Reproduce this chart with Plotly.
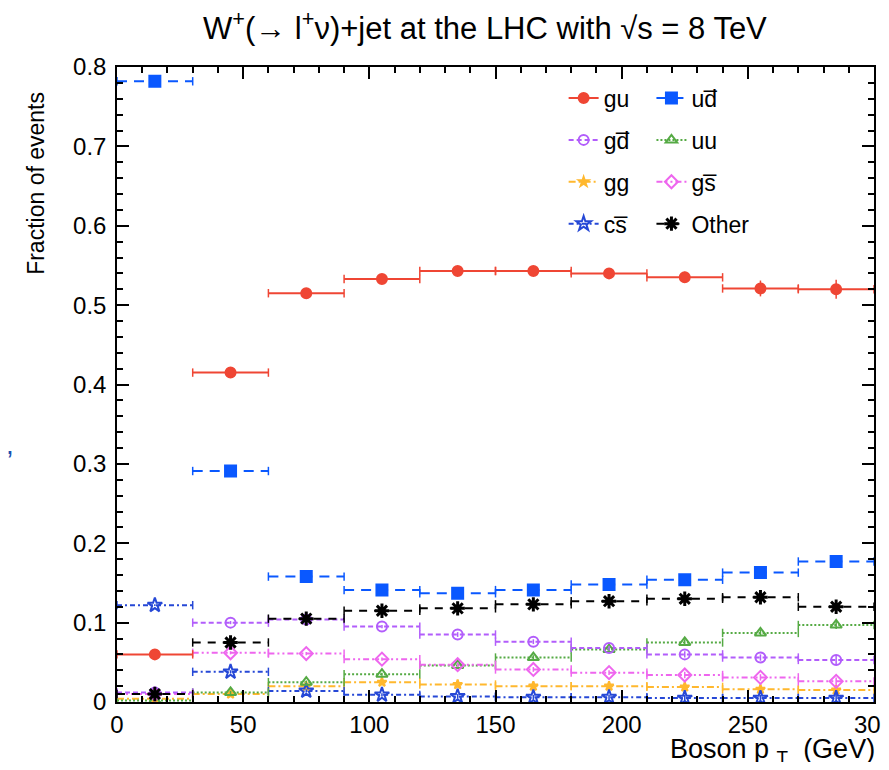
import plotly.graph_objects as go

# ---------------- data ----------------
bin_edges = [0, 30, 60, 90, 120, 150, 180, 210, 240, 270, 300]

series_names = ["gu", "ud\u0305", "gd\u0305", "uu", "gg", "gs\u0305", "cs\u0305", "Other"]

gu    = [0.060, 0.415, 0.515, 0.533, 0.543, 0.543, 0.540, 0.535, 0.521, 0.520]
udbar = [0.782, 0.291, 0.158, 0.141, 0.137, 0.141, 0.148, 0.154, 0.163, 0.177]
gdbar = [0.012, 0.100, 0.104, 0.095, 0.085, 0.076, 0.068, 0.060, 0.056, 0.053]
uu    = [0.002, 0.012, 0.025, 0.035, 0.046, 0.056, 0.066, 0.075, 0.087, 0.097]
gg    = [0.004, 0.010, 0.020, 0.025, 0.022, 0.020, 0.020, 0.019, 0.016, 0.015]
gsbar = [0.010, 0.062, 0.061, 0.054, 0.047, 0.041, 0.037, 0.034, 0.031, 0.026]
csbar = [0.122, 0.038, 0.014, 0.009, 0.007, 0.006, 0.006, 0.005, 0.005, 0.005]
other = [0.010, 0.075, 0.105, 0.115, 0.118, 0.123, 0.127, 0.130, 0.132, 0.120]

err_gu    = [0.002, 0.003, 0.003, 0.004, 0.004, 0.005, 0.006, 0.007, 0.010, 0.012]
err_udbar = [0.003, 0.003, 0.003, 0.003, 0.003, 0.004, 0.004, 0.005, 0.006, 0.008]
err_small = [0.001, 0.002, 0.002, 0.002, 0.003, 0.003, 0.003, 0.004, 0.004, 0.005]

x_ticks = [0, 50, 100, 150, 200, 250, 300]
y_ticks = [0, 0.1, 0.2, 0.3, 0.4, 0.5, 0.6, 0.7, 0.8]
y_ticktext = ["0", "0.1", "0.2", "0.3", "0.4", "0.5", "0.6", "0.7", "0.8"]

# ---------------- styles ----------------
styles = {
    "gu":        dict(color="#ef4634", dash="solid", symbol="circle", size=10, lw=2),
    "ud\u0305":  dict(color="#0a58ff", dash="10px,7px", symbol="square", size=11, lw=2),
    "gd\u0305":  dict(color="#b25dfb", dash="5px,3px", symbol="circle-open", size=10, lw=2),
    "uu":        dict(color="#55aa44", dash="2px,2px", symbol="triangle-up-open", size=10, lw=2),
    "gg":        dict(color="#ffb82e", dash="7px,3px,2px,3px", symbol="star", size=7, lw=2),
    "gs\u0305":  dict(color="#ee66ee", dash="6px,3px,2px,3px,2px,3px", symbol="diamond-open", size=10, lw=2),
    "cs\u0305":  dict(color="#2648d6", dash="5px,3px,2px,3px", symbol="star-open", size=11, lw=2),
    "Other":     dict(color="#000000", dash="8px,7px", symbol="asterisk-open", size=12, lw=2),
}

values = {
    "gu": (gu, err_gu), "ud\u0305": (udbar, err_udbar), "gd\u0305": (gdbar, err_small),
    "uu": (uu, err_small), "gg": (gg, err_small), "gs\u0305": (gsbar, err_small),
    "cs\u0305": (csbar, err_small), "Other": (other, err_small),
}

legend_of = {"gu": "legend", "gd\u0305": "legend", "gg": "legend", "cs\u0305": "legend",
             "ud\u0305": "legend2", "uu": "legend2", "gs\u0305": "legend2", "Other": "legend2"}
ranks = {"gu": 1, "gd\u0305": 2, "gg": 3, "cs\u0305": 4, "ud\u0305": 1, "uu": 2, "gs\u0305": 3, "Other": 4}

centers = [(a + b) / 2 for a, b in zip(bin_edges[:-1], bin_edges[1:])]

fig = go.Figure()

draw_order = ["gg", "cs\u0305", "uu", "gs\u0305", "gd\u0305", "Other", "ud\u0305", "gu"]
for name in draw_order:
    st = styles[name]
    vals, errs = values[name]
    sx, sy = [], []
    for lo, hi, v in zip(bin_edges[:-1], bin_edges[1:], vals):
        sx += [lo, hi, None]
        sy += [v, v, None]
    fig.add_trace(go.Scatter(
        x=sx, y=sy, mode="lines+markers", showlegend=False, hoverinfo="skip",
        line=dict(color=st["color"], dash=st["dash"], width=st["lw"]),
        marker=dict(symbol="line-ns-open", size=6, line=dict(color=st["color"], width=1.5)),
    ))

for name in draw_order:
    st = styles[name]
    vals, errs = values[name]
    mx, my, me = [], [], []
    for c, v, e in zip(centers, vals, errs):
        mx += [c, None]
        my += [v, None]
        me += [e, 0]
    mlw = 3 if name == "Other" else 2
    fig.add_trace(go.Scatter(
        x=mx, y=my, mode="lines+markers", name=name, legend=legend_of[name],
        legendrank=ranks[name], legendgroup=name,
        line=dict(color=st["color"], dash=st["dash"], width=st["lw"]),
        marker=dict(symbol=st["symbol"], size=st["size"], color=st["color"],
                    line=dict(color=st["color"], width=mlw)),
        error_y=dict(type="data", array=me, visible=True, color=st["color"], thickness=1.5, width=0),
        connectgaps=False,
    ))

font_family = "Liberation Sans, Arial, Helvetica, sans-serif"
legend_common = dict(font=dict(family=font_family, size=23, color="#000"),
                     bgcolor="rgba(0,0,0,0)", borderwidth=0, tracegroupgap=9,
                     yanchor="top", xanchor="left", itemwidth=30)

fig.update_layout(
    width=873, height=754,
    margin=dict(l=109, r=7, t=59, b=60, autoexpand=False),
    paper_bgcolor="white", plot_bgcolor="white",
    font=dict(family=font_family, size=24, color="#000"),
    title=dict(text="W<sup>+</sup>(\u2192 l<sup>+</sup>\u03bd)+jet at the LHC with \u221as = 8 TeV",
               x=0.486, xref="paper", xanchor="center", y=0.973, yanchor="middle",
               font=dict(family=font_family, size=31, color="#000")),
    legend=dict(x=0.59, y=0.985, **legend_common),
    legend2=dict(x=0.706, y=0.985, **legend_common),
    xaxis=dict(range=[0, 300], tickvals=x_ticks, ticks="inside", ticklen=12, tickwidth=1.5,
               tickcolor="#000", showline=True, linecolor="#000", linewidth=1.5, mirror="allticks",
               showgrid=False, zeroline=False, tickfont=dict(size=24), ticklabeloverflow="allow",
               automargin=False,
               minor=dict(ticks="inside", ticklen=6, dtick=10, tickcolor="#000", tickwidth=1.5, showgrid=False)),
    yaxis=dict(range=[0, 0.8], tickvals=y_ticks, ticktext=y_ticktext, ticks="inside", ticklen=12,
               tickwidth=1.5, tickcolor="#000", showline=True, linecolor="#000", linewidth=1.5,
               mirror="allticks", showgrid=False, zeroline=False, tickfont=dict(size=24),
               ticklabelstandoff=4, ticklabeloverflow="allow", automargin=False,
               minor=dict(ticks="inside", ticklen=6, dtick=0.02, tickcolor="#000", tickwidth=1.5, showgrid=False)),
)

fig.add_annotation(text="Fraction of events", xref="paper", yref="paper", x=-0.107, y=0.816,
                   xanchor="center", yanchor="middle", textangle=-90, showarrow=False,
                   font=dict(family=font_family, size=23, color="#000"))
fig.add_annotation(text="Boson p\u00a0<sub>T</sub>\u00a0 (GeV)", xref="paper", yref="paper", x=1.004, y=-0.077,
                   xanchor="right", yanchor="middle", showarrow=False,
                   font=dict(family=font_family, size=27, color="#000"))
fig.add_annotation(text=",", xref="paper", yref="paper", x=-0.141, y=0.405,
                   xanchor="center", yanchor="middle", showarrow=False,
                   font=dict(family=font_family, size=28, color="#1a4fb0"))

fig.write_html("out.html")
